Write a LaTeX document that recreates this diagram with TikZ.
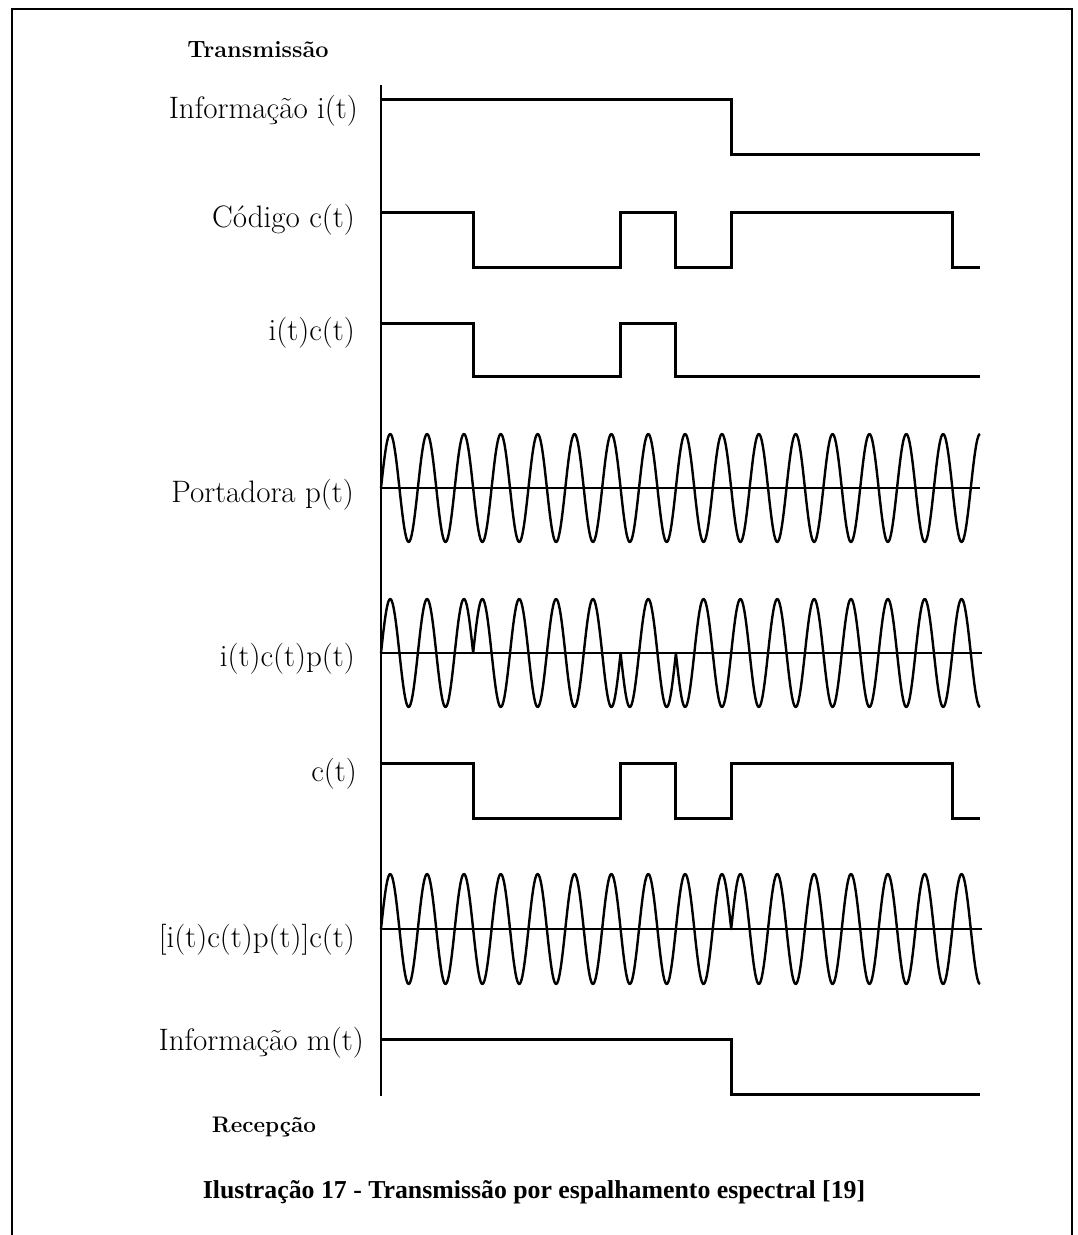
\documentclass[tikz,border=0pt]{standalone}
\usepackage{fontspec}
\newfontfamily\capfont{Liberation Serif}
\begin{document}
\begin{tikzpicture}[x=1pt,y=-1pt,
  sig/.style={line width=3pt, line join=miter},
  wave/.style={line width=2.4pt, line join=round},
  baseln/.style={line width=1.4pt},
  lbl/.style={anchor=east, inner sep=0pt, font=\fontsize{31}{33}\selectfont},
  ttl/.style={inner sep=0pt, font=\fontsize{23.5}{25}\selectfont\bfseries},
  frame/.style={line width=1.8pt}
]
\useasboundingbox (0,0) rectangle (1077,1235);
% frame (open at bottom)
\coordinate (fbl) at (12,1235);
\coordinate (ftl) at (12,9);
\coordinate (ftr) at (1072,9);
\coordinate (fbr) at (1072,1235);
\draw[frame] (fbl) -- (ftl) -- (ftr) -- (fbr);
% vertical axis
\coordinate (axT) at (381,85);
\coordinate (axB) at (381,1096);
\draw[line width=2pt] (axT) -- (axB);
% titles
\node[ttl] (tx) at (258,50) {Transmissão};
\node[ttl, font=\fontsize{22.5}{24}\selectfont\bfseries] (rx) at (264,1127) {Recepção};
\node[inner sep=0pt, font=\capfont\bfseries\fontsize{25.8}{28}\selectfont] (cap) at (534,1192) {Ilustração 17 - Transmissão por espalhamento espectral [19]};
% labels
\node[lbl] (l1) at (358,111) {Informação i(t)};
\node[lbl] (l2) at (355,220) {Código c(t)};
\node[lbl] (l3) at (355,333) {i(t)c(t)};
\node[lbl] (l4) at (354,495) {Portadora p(t)};
\node[lbl] (l5) at (355,659) {i(t)c(t)p(t)};
\node[lbl] (l6) at (357,774) {c(t)};
\node[lbl] (l7) at (355,940) {[i(t)c(t)p(t)]c(t)};
\node[lbl] (l8) at (364,1043) {Informação m(t)};
% transitions
\def\ta{473.15}\def\tb{620.6}\def\tc{675.9}\def\td{731.2}\def\te{952.35}
% row 1: i(t)
\draw[sig] (381,99) -- (\td,99) -- (\td,154) -- (980,154);
% row 2: c(t)
\draw[sig] (381,212) -- (\ta,212) -- (\ta,267) -- (\tb,267) -- (\tb,212) -- (\tc,212) -- (\tc,267) -- (\td,267) -- (\td,212) -- (\te,212) -- (\te,267) -- (980,267);
% row 3: i(t)c(t)
\draw[sig] (381,323) -- (\ta,323) -- (\ta,376) -- (\tb,376) -- (\tb,323) -- (\tc,323) -- (\tc,376) -- (980,376);
% row 4: carrier
\draw[line width=2.6pt] (381,488) -- (980,488);
\draw[wave] plot[domain=381:980, samples=700] (\x,{488-54*sin((\x-381)*9.76629)});
% row 5: i c p
\draw[baseln] (381,653) -- (982,653);
\draw[wave] plot[domain=381:\ta, samples=120] (\x,{653-54*sin((\x-381)*9.76629)})
  -- plot[domain=\ta:\tb, samples=180] (\x,{653+54*sin((\x-381)*9.76629)})
  -- plot[domain=\tb:\tc, samples=80] (\x,{653-54*sin((\x-381)*9.76629)})
  -- plot[domain=\tc:980, samples=360] (\x,{653+54*sin((\x-381)*9.76629)});
% row 6: c(t)
\draw[sig] (381,763) -- (\ta,763) -- (\ta,818) -- (\tb,818) -- (\tb,763) -- (\tc,763) -- (\tc,818) -- (\td,818) -- (\td,763) -- (\te,763) -- (\te,818) -- (980,818);
% row 7: despread
\draw[baseln] (381,929) -- (982,929);
\draw[wave] plot[domain=381:\td, samples=420] (\x,{929-55*sin((\x-381)*9.76629)})
  -- plot[domain=\td:980, samples=300] (\x,{929+55*sin((\x-381)*9.76629)});
% row 8: m(t)
\draw[sig] (381,1039) -- (\td,1039) -- (\td,1094) -- (980,1094);
\end{tikzpicture}
\end{document}
